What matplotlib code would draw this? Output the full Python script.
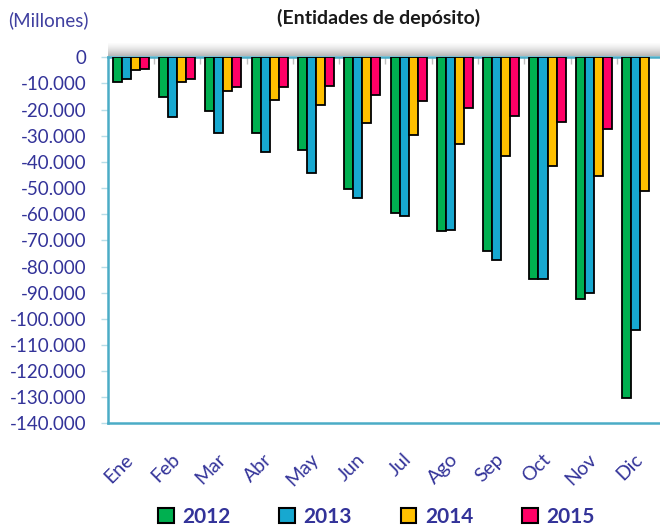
import numpy as np
import matplotlib
matplotlib.use('Agg')
import matplotlib.pyplot as plt
from matplotlib.patches import Rectangle, Patch
from matplotlib.ticker import FixedLocator, FuncFormatter

# datos (millones)
meses = ['Ene', 'Feb', 'Mar', 'Abr', 'May', 'Jun', 'Jul', 'Ago', 'Sep', 'Oct', 'Nov', 'Dic']
v2012 = [-9600, -15200, -20500, -29100, -35500, -50400, -59400, -66300, -74100, -84900, -92600, -130100]
v2013 = [-8400, -23000, -29100, -36200, -44100, -53900, -60700, -66200, -77500, -84900, -90000, -104300]
v2014 = [-4900, -9400, -12800, -16300, -18400, -25300, -29600, -33300, -37600, -41500, -45300, -51100]
v2015 = [-4600, -8200, -11500, -11500, -11000, -14300, -16800, -19500, -22500, -24600, -27500, np.nan]

anios = ['2012', '2013', '2014', '2015']
colores = ['#00B050', '#17A8D0', '#FFC000', '#FF0066']
series = [v2012, v2013, v2014, v2015]

azul = '#333399'
celeste = '#4BACC6'

plt.rcParams['font.family'] = ['Lato', 'DejaVu Sans']

fig = plt.figure(figsize=(6.6, 5.26), dpi=100)
ax = fig.add_axes([0.163, 0.195, 0.842, 0.696])

x = np.arange(len(meses))
w = 0.195
for i, (s, c) in enumerate(zip(series, colores)):
    ax.bar(x + (i - 1.5) * w, s, w, color=c, edgecolor='black', linewidth=1.3, zorder=3)

ax.set_xlim(-0.5, 11.5)
ax.set_ylim(-140000, 0)

# eje y
ax.yaxis.set_major_locator(FixedLocator(np.arange(-140000, 1, 10000)))
ax.yaxis.set_major_formatter(FuncFormatter(lambda v, p: '{:,.0f}'.format(v).replace(',', '.')))
ax.tick_params(axis='y', colors='#B7DDE8', labelcolor=azul, labelsize=13.5, length=5, width=1, pad=10)

# eje x
ax.set_xticks(x)
ax.set_xticklabels(meses)
ax.tick_params(axis='x', which='major', length=0, labelcolor=azul, labelsize=14, pad=24)
for lab in ax.get_xticklabels():
    lab.set_rotation(45)
    lab.set_ha('right')
    lab.set_va('center')
    lab.set_rotation_mode('anchor')
ax.xaxis.set_minor_locator(FixedLocator(np.arange(0.5, 11, 1)))
ax.tick_params(axis='x', which='minor', bottom=False, top=True, direction='in',
               length=5, width=1, color='#BFBFBF')

for sp in ['left', 'bottom', 'top']:
    ax.spines[sp].set_color(celeste)
    ax.spines[sp].set_linewidth(1.8)
ax.spines['right'].set_visible(False)

# sombra sobre la linea del cero
n = 14
for k in range(n):
    a = ((k + 1) / n) ** 1.5
    ax.add_patch(Rectangle((0, 1 + (n - k) * 0.0027), 1, 0.0027, transform=ax.transAxes,
                           color='#808080', alpha=a * 0.55, lw=0, clip_on=False, zorder=1))

fig.text(0.573, 0.965, '(Entidades de depósito)', ha='center', va='center',
         fontsize=14, fontweight='bold', color='#1A1A1A')
fig.text(0.012, 0.962, '(Millones)', ha='left', va='center', fontsize=13.5, color='#4040A0')

handles = [Patch(facecolor=c, edgecolor='black', linewidth=1.5) for c in colores]
leg = fig.legend(handles, anios, loc='center', bbox_to_anchor=(0.57, 0.018), ncol=4,
                 frameon=False, handlelength=0.75, handleheight=0.75, handletextpad=0.4,
                 columnspacing=2.35, prop={'weight': 'bold', 'size': 15})
for t in leg.get_texts():
    t.set_color(azul)

fig.savefig('out.png', dpi=100)
